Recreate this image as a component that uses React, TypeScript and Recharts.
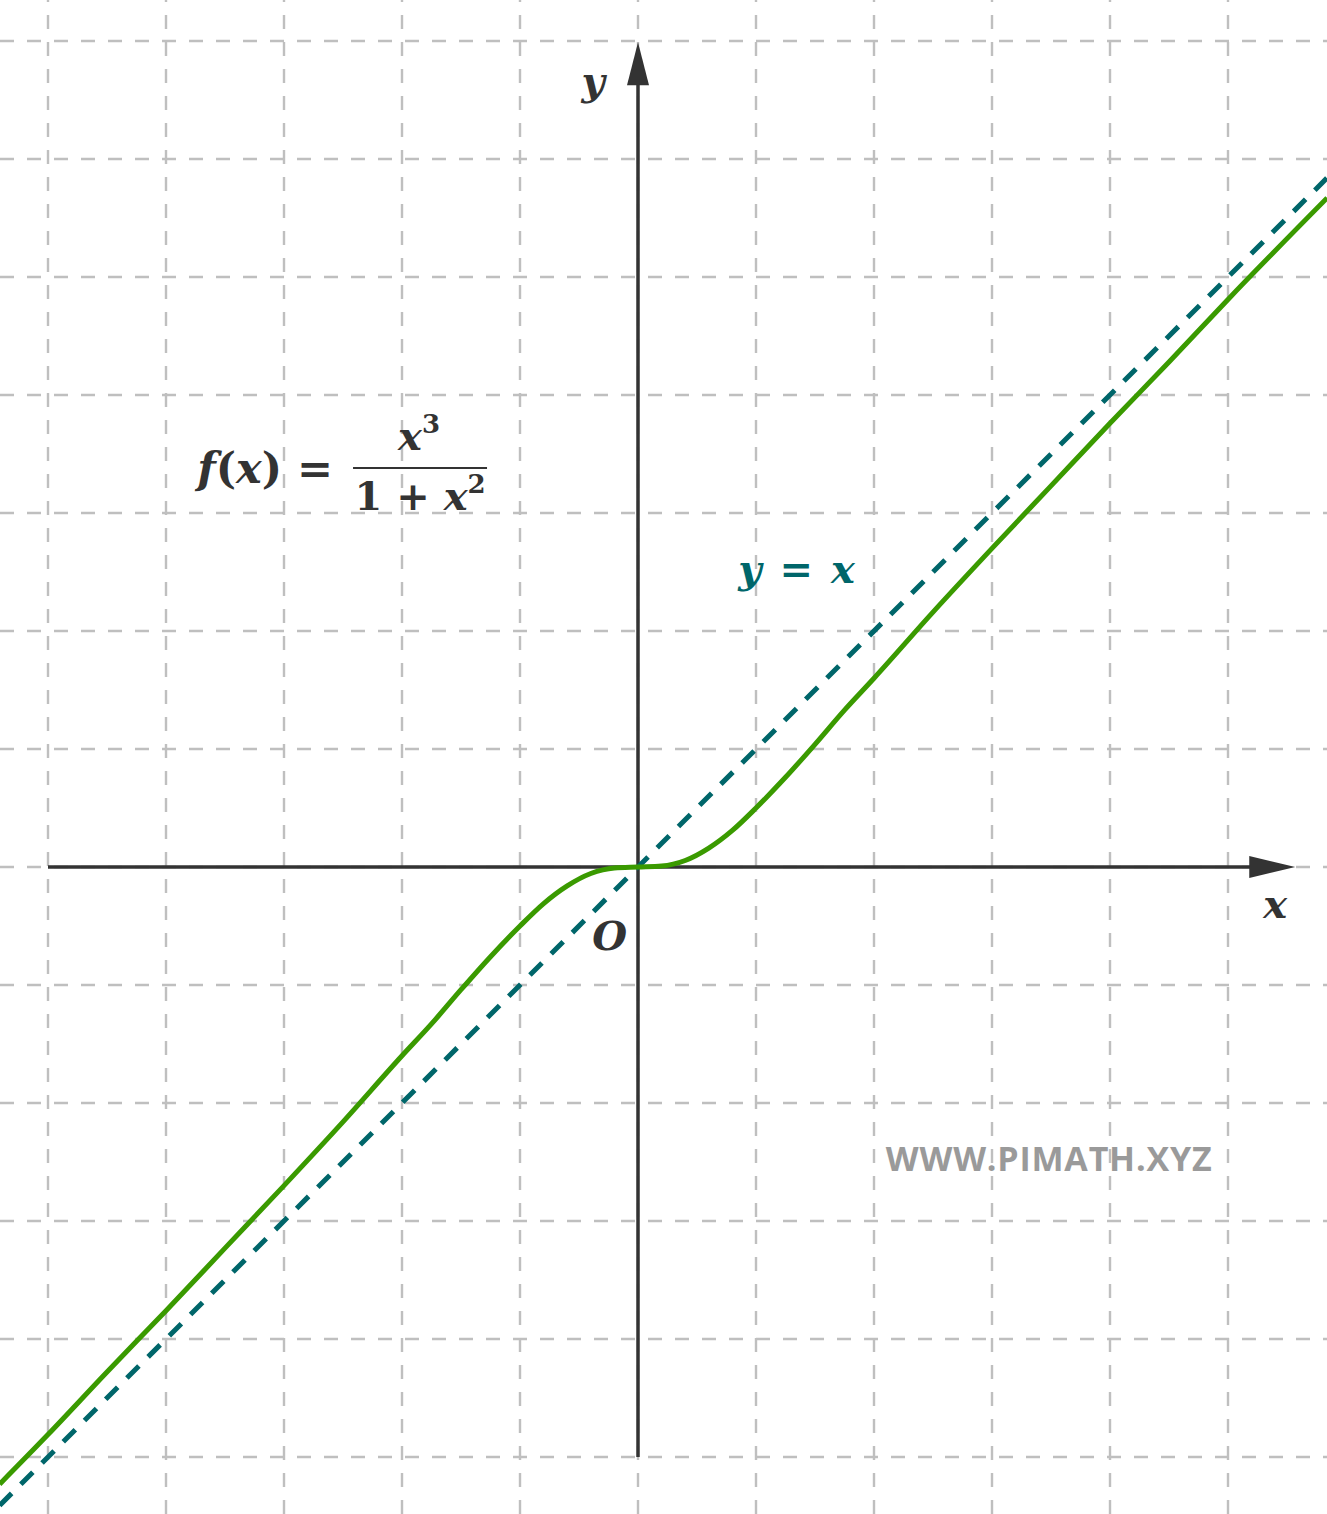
import React from "react";
import {
  LineChart,
  Line,
  XAxis,
  YAxis,
  ReferenceLine,
  ReferenceDot,
} from "recharts";

// f(x) = x^3 / (1 + x^2)
const curveX = [-5.41, -5, -4.5, -4, -3.5, -3, -2.5, -2, -1.75, -1.5, -1.25, -1, -0.8, -0.6, -0.4, -0.2, 0, 0.2, 0.4, 0.6, 0.8, 1, 1.25, 1.5, 1.75, 2, 2.5, 3, 3.5, 4, 4.5, 5, 5.84];
const curveY = [-5.23, -4.81, -4.28, -3.76, -3.23, -2.7, -2.16, -1.6, -1.33, -1.04, -0.76, -0.5, -0.31, -0.16, -0.055, -0.008, 0, 0.008, 0.055, 0.16, 0.31, 0.5, 0.76, 1.04, 1.33, 1.6, 2.16, 2.7, 3.23, 3.76, 4.28, 4.81, 5.67];

// asymptote y = x
const lineX = [-5.41, 5.84];
const lineY = [-5.41, 5.84];

const gridX = [-5, -4, -3, -2, -1, 0, 1, 2, 3, 4, 5];
const gridY = [-5, -4, -3, -2, -1, 0, 1, 2, 3, 4, 5, 6, 7];

const curveData = curveX.map((x, i) => ({ x, f: curveY[i] }));
const lineData = lineX.map((x, i) => ({ x, y: lineY[i] }));

const W = 1327;
const H = 1514;
const X_DOMAIN: [number, number] = [-638 / 118, (W - 638) / 118];
const Y_DOMAIN: [number, number] = [-(H - 867) / 118, 867 / 118];

const AXIS = "#333333";
const GRID = "#bfbfbf";
const GREEN = "#3a9a00";
const TEAL = "#00666a";
const MATH = "'DejaVu Serif', 'Liberation Serif', serif";

export default function App() {
  return (
    <div style={{ position: "absolute", left: 0, top: 0, width: W, height: H, background: "#fff" }}>
      <LineChart width={W} height={H} margin={{ top: 0, right: 0, bottom: 0, left: 0 }}>
        <XAxis dataKey="x" type="number" domain={X_DOMAIN} allowDataOverflow hide />
        <YAxis type="number" domain={Y_DOMAIN} allowDataOverflow hide />

        {/* dashed grid */}
        {gridX.map((v) => (
          <ReferenceLine key={`gx${v}`} x={v} stroke={GRID} strokeWidth={2.4} strokeDasharray="14 13" />
        ))}
        {gridY.map((v) => (
          <ReferenceLine key={`gy${v}`} y={v} stroke={GRID} strokeWidth={2.4} strokeDasharray="14 13" />
        ))}

        {/* axes */}
        <ReferenceLine segment={[{ x: -5, y: 0 }, { x: 5.3, y: 0 }]} stroke={AXIS} strokeWidth={3.5} />
        <ReferenceLine segment={[{ x: 0, y: -5 }, { x: 0, y: 6.8 }]} stroke={AXIS} strokeWidth={3.5} />
        <ReferenceDot
          x={5.57}
          y={0}
          r={0}
          shape={(p: any) => (
            <path d={`M${p.cx},${p.cy} L${p.cx - 46},${p.cy - 11} L${p.cx - 46},${p.cy + 11} Z`} fill={AXIS} />
          )}
        />
        <ReferenceDot
          x={0}
          y={6.99}
          r={0}
          shape={(p: any) => (
            <path d={`M${p.cx},${p.cy} L${p.cx - 11},${p.cy + 43} L${p.cx + 11},${p.cy + 43} Z`} fill={AXIS} />
          )}
        />

        <Line
          data={lineData}
          dataKey="y"
          type="linear"
          stroke={TEAL}
          strokeWidth={5}
          strokeDasharray="17 13"
          dot={false}
          activeDot={false}
          isAnimationActive={false}
        />
        <Line
          data={curveData}
          dataKey="f"
          type="monotone"
          stroke={GREEN}
          strokeWidth={5}
          dot={false}
          activeDot={false}
          isAnimationActive={false}
        />

        {/* labels */}
        <ReferenceDot
          x={-0.38}
          y={6.54}
          r={0}
          shape={(p: any) => (
            <text x={p.cx} y={p.cy} textAnchor="middle" fontFamily={MATH} fontStyle="italic" fontWeight="bold" fontSize={40} fill={AXIS}>y</text>
          )}
        />
        <ReferenceDot
          x={5.4}
          y={-0.43}
          r={0}
          shape={(p: any) => (
            <text x={p.cx} y={p.cy} textAnchor="middle" fontFamily={MATH} fontStyle="italic" fontWeight="bold" fontSize={40} fill={AXIS}>x</text>
          )}
        />
        <ReferenceDot
          x={-0.24}
          y={-0.7}
          r={0}
          shape={(p: any) => (
            <text x={p.cx} y={p.cy} textAnchor="middle" fontFamily={MATH} fontStyle="italic" fontWeight="bold" fontSize={40} fill={AXIS}>O</text>
          )}
        />
        <ReferenceDot
          x={0.85}
          y={2.41}
          r={0}
          shape={(p: any) => (
            <text x={p.cx} y={p.cy} fontFamily={MATH} fontWeight="bold" fontSize={40} fill={TEAL}>
              <tspan fontStyle="italic">y</tspan>
              <tspan dx={4}> = </tspan>
              <tspan dx={4} fontStyle="italic">x</tspan>
            </text>
          )}
        />
        <ReferenceDot
          x={-2.415}
          y={3.381}
          r={0}
          shape={(p: any) => (
            <g fontFamily={MATH} fontWeight="bold" fill={AXIS}>
              <text x={p.cx - 20} y={p.cy + 15} textAnchor="end" fontSize={43}>
                <tspan fontStyle="italic">f</tspan>
                <tspan>(</tspan>
                <tspan fontStyle="italic">x</tspan>
                <tspan>) =</tspan>
              </text>
              <line x1={p.cx} y1={p.cy} x2={p.cx + 134} y2={p.cy} stroke={AXIS} strokeWidth={2} />
              <text x={p.cx + 66} y={p.cy - 18} textAnchor="middle" fontSize={40}>
                <tspan fontStyle="italic">x</tspan>
                <tspan fontSize={26} dy={-17}>3</tspan>
              </text>
              <text x={p.cx + 67} y={p.cy + 42} textAnchor="middle" fontSize={40}>
                <tspan>1 + </tspan>
                <tspan fontStyle="italic">x</tspan>
                <tspan fontSize={26} dy={-17}>2</tspan>
              </text>
            </g>
          )}
        />
        <ReferenceDot
          x={2.1}
          y={-2.58}
          r={0}
          shape={(p: any) => (
            <text
              x={p.cx}
              y={p.cy}
              fontFamily="'Open Sans', sans-serif"
              fontWeight="bold"
              fontSize={34}
              letterSpacing={0.8}
              fill="#9a9a9a"
            >
              WWW.PIMATH.XYZ
            </text>
          )}
        />
      </LineChart>
    </div>
  );
}
